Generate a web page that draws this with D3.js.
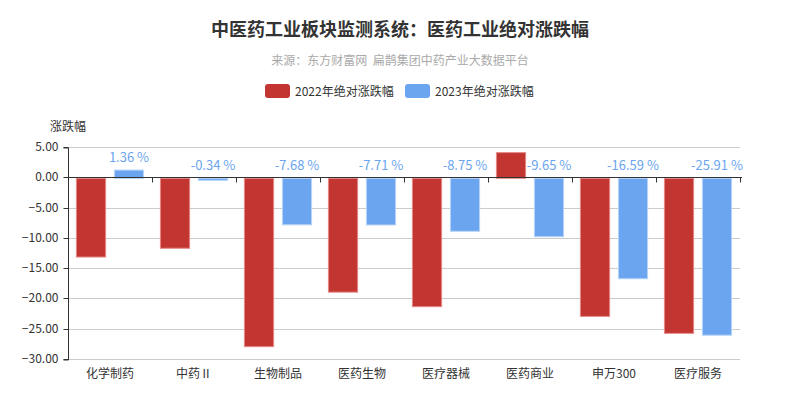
<!DOCTYPE html>
<html>
<head>
<meta charset="utf-8">
<script src="https://cdn.jsdelivr.net/npm/d3@7"></script>
<style>
  body { margin: 0; background: #fff; }
  svg { font-family: "Noto Sans CJK SC", "Noto Sans", sans-serif; }
</style>
</head>
<body>
<div id="chart"></div>
<script>
const categories = ['化学制药', '中药Ⅱ', '生物制品', '医药生物', '医疗器械', '医药商业', '申万300', '医疗服务']
const seriesNames = ['2022年绝对涨跌幅', '2023年绝对涨跌幅']
const values2022 = [-13.0, -11.55, -27.8, -18.8, -21.2, 4.24, -22.8, -25.6]
const values2023 = [1.36, -0.34, -7.68, -7.71, -8.75, -9.65, -16.59, -25.91]
const yTicks = [5, 0, -5, -10, -15, -20, -25, -30]

const colors = ['#c23531', '#6ca5ef']
const strokes = ['#e58a87', '#b9d5f8']

const width = 800
const height = 400
const margin = { top: 148, right: 60, bottom: 40, left: 68 }

const svg = d3.select('#chart')
  .append('svg')
  .attr('width', width)
  .attr('height', height)

// title + subtitle
svg.append('text')
  .attr('x', 400).attr('y', 36)
  .attr('text-anchor', 'middle')
  .attr('font-size', 18).attr('font-weight', 'bold')
  .attr('fill', '#333')
  .text('中医药工业板块监测系统：医药工业绝对涨跌幅')

svg.append('text')
  .attr('x', 400).attr('y', 65)
  .attr('text-anchor', 'middle')
  .attr('font-size', 12)
  .attr('fill', '#aaa')
  .style('white-space', 'pre')
  .text('来源：东方财富网  扁鹊集团中药产业大数据平台')

// legend
const legendX = [265, 405]
seriesNames.forEach((name, i) => {
  const g = svg.append('g').attr('transform', `translate(${legendX[i]},84)`)
  g.append('rect')
    .attr('width', 25).attr('height', 14)
    .attr('rx', 3)
    .attr('fill', colors[i])
  g.append('text')
    .attr('x', 30).attr('y', 12)
    .attr('font-size', 12)
    .attr('fill', '#333')
    .text(name)
})

// scales
const x0 = d3.scaleBand()
  .domain(categories)
  .range([margin.left, width - margin.right])

const x1 = d3.scaleBand()
  .domain([0, 1])
  .range([x0.bandwidth() * 0.1, x0.bandwidth() * 0.9])
  .paddingInner(0.23)

const y = d3.scaleLinear()
  .domain([-30, 5])
  .range([360, 148])

// grid lines
svg.append('g')
  .selectAll('line')
  .data(yTicks)
  .enter()
  .append('line')
  .attr('x1', margin.left).attr('x2', width - margin.right)
  .attr('y1', d => Math.round(y(d)) - 0.5).attr('y2', d => Math.round(y(d)) - 0.5)
  .attr('stroke', '#ccc')

// y axis
const yAxis = svg.append('g')
  .attr('transform', `translate(${margin.left + 0.5},0)`)
  .call(d3.axisLeft(y).tickValues(yTicks).tickSize(5).tickPadding(5).tickFormat(d3.format('.2f')).offset(0))
yAxis.selectAll('.tick').attr('transform', d => `translate(0,${Math.round(y(d)) - 0.5})`)
yAxis.select('.domain').attr('stroke', '#333')
yAxis.selectAll('.tick line').attr('stroke', '#333')
yAxis.selectAll('.tick text')
  .attr('font-size', 12)
  .attr('fill', '#333')
  .attr('font-family', '"Noto Sans CJK SC", "Noto Sans", sans-serif')

svg.append('text')
  .attr('x', 68).attr('y', 131)
  .attr('text-anchor', 'middle')
  .attr('font-size', 12)
  .attr('fill', '#333')
  .text('涨跌幅')

// bars
const data = categories.map((c, i) => ({ cat: c, vals: [values2022[i], values2023[i]] }))

const groups = svg.append('g')
  .selectAll('g')
  .data(data)
  .enter()
  .append('g')
  .attr('transform', d => `translate(${x0(d.cat)},0)`)

groups.selectAll('rect')
  .data(d => d.vals.map((v, i) => ({ v, i })))
  .enter()
  .append('rect')
  .attr('x', d => x1(d.i))
  .attr('width', x1.bandwidth())
  .attr('y', d => y(Math.max(0, d.v)))
  .attr('height', d => Math.abs(y(d.v) - y(0)))
  .attr('fill', d => colors[d.i])
  .attr('stroke', d => strokes[d.i])
  .attr('stroke-width', 1)

// value labels on 2023 series
groups.append('text')
  .attr('x', d => x1(1) + x1.bandwidth() / 2)
  .attr('y', d => y(Math.max(0, d.vals[1])) - 8)
  .attr('text-anchor', 'middle')
  .attr('font-size', 13)
  .attr('fill', '#6ca5ef')
  .text(d => d.vals[1].toFixed(2) + ' %')

// x axis on zero line, labels at the bottom
const xAxis = svg.append('g')
  .attr('transform', `translate(0,${Math.round(y(0)) - 0.5})`)
xAxis.append('line')
  .attr('x1', margin.left).attr('x2', width - margin.right + 2)
  .attr('stroke', '#333')
xAxis.selectAll('line.tk')
  .data(categories.map(c => x0(c) + x0.bandwidth()).concat([margin.left]))
  .enter()
  .append('line')
  .attr('class', 'tk')
  .attr('x1', d => Math.round(d) + 0.5).attr('x2', d => Math.round(d) + 0.5)
  .attr('y1', 0).attr('y2', 5)
  .attr('stroke', '#333')

svg.append('g')
  .selectAll('text')
  .data(categories)
  .enter()
  .append('text')
  .attr('x', d => x0(d) + x0.bandwidth() / 2)
  .attr('y', 378)
  .attr('text-anchor', 'middle')
  .attr('font-size', 12)
  .attr('fill', '#333')
  .text(d => d)
</script>
</body>
</html>
